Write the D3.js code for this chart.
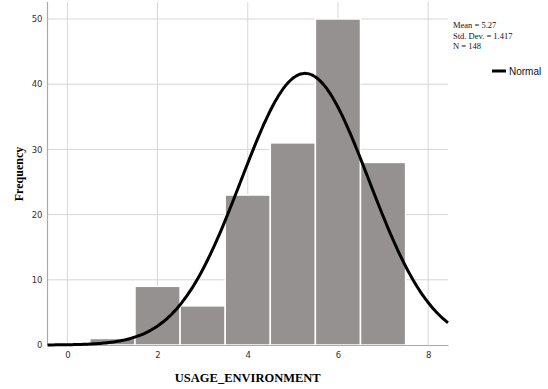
<!DOCTYPE html>
<html>
<head>
<meta charset="utf-8">
<script src="https://cdn.jsdelivr.net/npm/d3@7"></script>
<style>
  body { margin: 0; background: #fff; }
  svg { display: block; }
</style>
</head>
<body>
<div id="chart-area"></div>
<script>
// data
const binCenters = [1, 2, 3, 4, 5, 6, 7];
const frequencies = [1, 9, 6, 23, 31, 50, 28];
const xTicks = [0, 2, 4, 6, 8];
const yTicks = [0, 10, 20, 30, 40, 50];
const stats = { mean: 5.27, sd: 1.417, n: 148 };
const statLines = ["Mean = 5.27", "Std. Dev. = 1.417", "N = 148"];

// dimensions
var margin = { top: 2, right: 100, bottom: 44, left: 47.5 };
var width = 548 - margin.left - margin.right,
    height = 345 - margin.top;

var svg = d3.select("#chart-area").append("svg")
    .attr("width", 548)
    .attr("height", 389);

var g = svg.append("g")
    .attr("transform", "translate(" + margin.left + "," + margin.top + ")");

// scales
var x = d3.scaleLinear().domain([-0.44, 8.44]).range([0, width]);
var y = d3.scaleLinear().domain([0, 50]).range([height, 17]);

// grid
g.selectAll(".vgrid").data(xTicks).enter().append("line")
    .attr("x1", d => x(d)).attr("x2", d => x(d))
    .attr("y1", 0).attr("y2", height)
    .attr("stroke", "#d6d6d6").attr("stroke-width", 1);

g.selectAll(".hgrid").data(yTicks.slice(1)).enter().append("line")
    .attr("x1", 0).attr("x2", width)
    .attr("y1", d => y(d)).attr("y2", d => y(d))
    .attr("stroke", "#d6d6d6").attr("stroke-width", 1);

// bars
g.selectAll("rect").data(binCenters).enter().append("rect")
    .attr("x", d => x(d - 0.5))
    .attr("width", d => x(d + 0.5) - x(d - 0.5))
    .attr("y", (d, i) => y(frequencies[i]))
    .attr("height", (d, i) => y(0) - y(frequencies[i]))
    .attr("fill", "#959190")
    .attr("stroke", "#ffffff")
    .attr("stroke-width", 1.5);

// axes
var xAxis = g.append("g")
    .attr("transform", "translate(0," + height + ")")
    .call(d3.axisBottom(x).tickValues(xTicks).tickSize(0).tickPadding(7));
var yAxis = g.append("g")
    .call(d3.axisLeft(y).tickValues(yTicks).tickSize(0).tickPadding(5));

[xAxis, yAxis].forEach(a => {
    a.select(".domain").attr("stroke", "#aaaaaa").attr("stroke-width", 1.2);
    a.selectAll("text")
        .attr("font-family", "DejaVu Sans, sans-serif")
        .attr("font-size", 8.5)
        .attr("fill", "#333");
});
yAxis.select(".domain").attr("d", "M0," + height + "V0");

// normal curve
var binWidth = 1;
var curveXs = d3.range(0, 201).map(i => x.domain()[0] + (x.domain()[1] - x.domain()[0]) * i / 200);
var normal = curveXs.map(v => [v,
    stats.n * binWidth / (stats.sd * Math.sqrt(2 * Math.PI)) *
    Math.exp(-0.5 * Math.pow((v - stats.mean) / stats.sd, 2))]);

g.append("path")
    .datum(normal)
    .attr("fill", "none")
    .attr("stroke", "#000")
    .attr("stroke-width", 3)
    .attr("d", d3.line().x(d => x(d[0])).y(d => y(d[1])).curve(d3.curveBasis));

// axis labels
svg.append("text")
    .attr("x", margin.left + x(4))
    .attr("y", 382)
    .attr("text-anchor", "middle")
    .attr("font-family", "Liberation Serif, serif")
    .attr("font-weight", "bold")
    .attr("font-size", 12.5)
    .text("USAGE_ENVIRONMENT");

svg.append("text")
    .attr("transform", "translate(23," + 174 + ") rotate(-90)")
    .attr("text-anchor", "middle")
    .attr("font-family", "Liberation Serif, serif")
    .attr("font-weight", "bold")
    .attr("font-size", 12)
    .text("Frequency");

// stats box
svg.selectAll(".stat").data(statLines).enter().append("text")
    .attr("x", 453)
    .attr("y", (d, i) => 28 + i * 10.5)
    .attr("font-family", "Liberation Serif, serif")
    .attr("font-size", 8.5)
    .attr("fill", "#111")
    .text(d => d);

// legend
svg.append("line")
    .attr("x1", 492).attr("x2", 506)
    .attr("y1", 71).attr("y2", 71)
    .attr("stroke", "#000").attr("stroke-width", 3);
svg.append("text")
    .attr("x", 509).attr("y", 74.5)
    .attr("font-family", "Liberation Sans, sans-serif")
    .attr("font-size", 10)
    .attr("fill", "#111")
    .text("Normal");
</script>
</body>
</html>
